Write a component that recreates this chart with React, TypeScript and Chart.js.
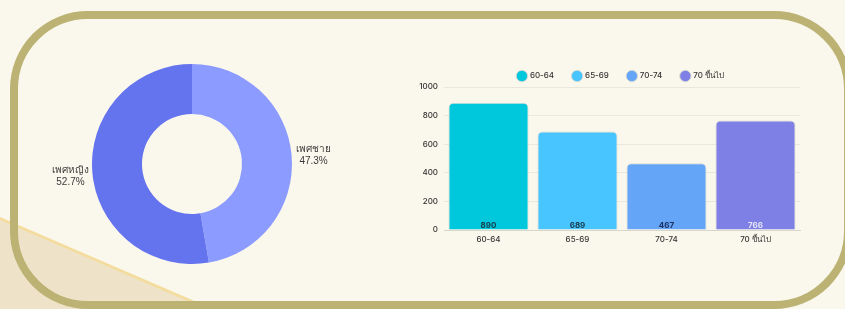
import React, { useEffect, useRef } from "react";
import { Chart, registerables } from "chart.js";

Chart.register(...registerables);

const genderLabels = ["เพศชาย", "เพศหญิง"];
const genderValues = [47.3, 52.7];
const genderColors = ["#8C9BFF", "#6473EE"];

const ageCategories = ["60-64", "65-69", "70-74", "70 ขึ้นไป"];
const ageValues = [890, 689, 467, 766];
const ageColors = ["#00C8DC", "#48C4FF", "#64A5F8", "#7E80E6"];
const ageValueColors = ["#163a48", "#163a48", "#1c2f5c", "#e6e6f6"];
const yTicks = [0, 200, 400, 600, 800, 1000];

const FONT = "Inter, 'DejaVu Sans', sans-serif";

const donutLabelPlugin = {
  id: "donutLabels",
  afterDatasetsDraw(chart: any) {
    const ctx = chart.ctx;
    const meta = chart.getDatasetMeta(0);
    ctx.save();
    ctx.fillStyle = "#3a3a3a";
    ctx.font = "10px 'Liberation Sans Narrow', 'Liberation Sans', sans-serif";
    ctx.textAlign = "center";
    ctx.textBaseline = "middle";
    meta.data.forEach((arc: any, i: number) => {
      const p = arc.getProps(["x", "y", "startAngle", "endAngle", "outerRadius"], true);
      const mid = (p.startAngle + p.endAngle) / 2;
      const d = p.outerRadius + 22;
      const x = p.x + Math.cos(mid) * d;
      const y = p.y + Math.sin(mid) * d;
      ctx.fillText(genderLabels[i], x, y - 4);
      ctx.fillText(genderValues[i].toFixed(1) + "%", x, y + 8);
    });
    ctx.restore();
  },
};

const barValuePlugin = {
  id: "barValues",
  afterDatasetsDraw(chart: any) {
    const ctx = chart.ctx;
    ctx.save();
    ctx.font = "bold 8px " + FONT;
    ctx.textAlign = "center";
    ctx.textBaseline = "bottom";
    const yScale = chart.scales.y;
    chart.data.datasets.forEach((ds: any, i: number) => {
      const meta = chart.getDatasetMeta(i);
      const bar = meta.data[i];
      if (!bar) return;
      ctx.fillStyle = ageValueColors[i];
      ctx.fillText(String(ageValues[i]), bar.x, yScale.getPixelForValue(0));
    });
    ctx.restore();
  },
};

const legendPlacePlugin = {
  id: "legendPlace",
  beforeInit(chart: any) {
    if (!chart.legend) return;
    const fit = chart.legend.fit;
    chart.legend.fit = function () {
      fit.call(this);
      this.height = 47;
    };
  },
  afterLayout(chart: any) {
    const lg = chart.legend;
    if (!lg) return;
    lg.top += 13;
    lg.bottom += 13;
    lg.left += 16;
    lg.right += 16;
  },
};

export default function App() {
  const donutRef = useRef<HTMLCanvasElement>(null);
  const barRef = useRef<HTMLCanvasElement>(null);

  useEffect(() => {
    const donut = new Chart(donutRef.current!, {
      type: "doughnut",
      data: {
        labels: genderLabels,
        datasets: [
          {
            data: genderValues,
            backgroundColor: genderColors,
            borderWidth: 0,
          },
        ],
      },
      options: {
        animation: false,
        responsive: false,
        devicePixelRatio: 1,
        cutout: "50%",
        layout: { padding: 10 },
        plugins: { legend: { display: false }, tooltip: { enabled: false } },
      },
      plugins: [donutLabelPlugin],
    });

    const datasets = ageCategories.map((cat, i) => ({
      label: cat,
      data: ageCategories.map((_, j) => (j === i ? ageValues[i] : null)),
      backgroundColor: ageColors[i],
      borderColor: "rgba(215,215,210,0.9)",
      borderWidth: 1,
      borderRadius: 5,
      borderSkipped: "bottom" as const,
      barPercentage: 0.9,
      categoryPercentage: 1,
    }));

    const bar = new Chart(barRef.current!, {
      type: "bar",
      data: { labels: ageCategories, datasets },
      options: {
        animation: false,
        responsive: false,
        devicePixelRatio: 1,
        layout: { padding: { left: 0, right: 32, top: 0, bottom: 0 } },
        plugins: {
          tooltip: { enabled: false },
          legend: {
            position: "top",
            labels: {
              usePointStyle: true,
              pointStyle: "circle",
              boxWidth: 9,
              boxHeight: 9,
              padding: 19,
              color: "#333",
              font: { size: 8, family: FONT, weight: 500 },
            },
          },
        },
        scales: {
          x: {
            stacked: true,
            grid: { display: false, drawTicks: false },
            border: { display: true, color: "#d8d6ca" },
            ticks: {
              padding: 5,
              color: "#333",
              font: { size: 8, family: FONT, weight: 500 },
            },
            afterFit(scale: any) {
              scale.height = 18;
            },
          },
          y: {
            stacked: true,
            min: 0,
            max: 1000,
            afterBuildTicks(scale: any) {
              scale.ticks = yTicks.map((v) => ({ value: v }));
            },
            grid: { color: "#EAE8DD", drawTicks: false },
            border: { display: false },
            ticks: {
              padding: 6,
              color: "#333",
              font: { size: 8, family: FONT, weight: 500 },
              callback: (v: any) => String(v),
            },
            afterFit(scale: any) {
              scale.width = 34;
            },
          },
        },
      },
      plugins: [barValuePlugin, legendPlacePlugin],
    });

    return () => {
      donut.destroy();
      bar.destroy();
    };
  }, []);

  return (
    <div
      style={{
        position: "fixed",
        left: 0,
        top: 0,
        width: 845,
        height: 309,
        background: "#FAF8EC",
        overflow: "hidden",
      }}
    >
      <div
        style={{
          position: "absolute",
          inset: 0,
          background: "#F3DC9E",
          clipPath: "polygon(0 217px, 213px 309px, 0 309px)",
        }}
      />
      <div
        style={{
          position: "absolute",
          inset: 0,
          background: "#EEE3C8",
          clipPath: "polygon(0 220px, 206px 309px, 0 309px)",
        }}
      />
      <div
        style={{
          position: "absolute",
          left: 10,
          top: 11,
          width: 842,
          height: 298,
          boxSizing: "border-box",
          border: "8px solid #BBB274",
          borderRadius: 78,
        }}
      />
      <canvas
        ref={donutRef}
        width={340}
        height={220}
        style={{ position: "absolute", left: 22, top: 54 }}
      />
      <canvas
        ref={barRef}
        width={422}
        height={208}
        style={{ position: "absolute", left: 410, top: 40 }}
      />
    </div>
  );
}
